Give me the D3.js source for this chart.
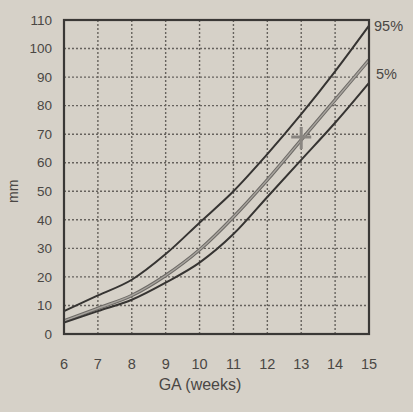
<!DOCTYPE html>
<meta charset="utf-8">
<style>
body { margin: 0; background: #d6d1c8; }
svg { display: block; font-family: "Liberation Sans", Arial, sans-serif; }
.grid line { stroke: #66625d; stroke-width: 1.4; stroke-dasharray: 2,2; }
.tick-label { fill: #4a4744; font-size: 13.5px; }
</style>
<body>
<script src="https://d3js.org/d3.v7.min.js"></script>
<script>

var width = 413,
    height = 412,
    margin = {top: 20, right: 44, bottom: 78, left: 64};

// gestational age (weeks)
var weeks = [6, 7, 8, 9, 10, 11, 12, 13, 14, 15];
// mm
var p95 = [8, 13.5, 19, 28, 39, 50, 63, 77, 92, 108];
var p50 = [4.6, 9, 13.5, 20.5, 29.5, 41, 54, 68, 82, 96];
var p5  = [4, 8, 12, 18, 25, 35, 48, 61, 74, 88];
var yTicks = [0, 10, 20, 30, 40, 50, 60, 70, 80, 90, 100, 110];
var marker = {week: 13, mm: 69};

var svg = d3.select("body").append("svg")
    .attr("width", width)
    .attr("height", height);

var x = d3.scaleLinear().domain([6, 15]).range([margin.left, width - margin.right]);
var y = d3.scaleLinear().domain([0, 110]).range([height - margin.bottom, margin.top]);

// dotted grid
var grid = svg.append("g").attr("class", "grid");
grid.selectAll(".h")
    .data(yTicks.filter(function(d) { return d > 0 && d < 110; }))
  .enter().append("line")
    .attr("x1", x(6)).attr("x2", x(15))
    .attr("y1", function(d) { return y(d); })
    .attr("y2", function(d) { return y(d); });
grid.selectAll(".v")
    .data(weeks.filter(function(d) { return d > 6 && d < 15; }))
  .enter().append("line")
    .attr("x1", function(d) { return x(d); })
    .attr("x2", function(d) { return x(d); })
    .attr("y1", y(110)).attr("y2", y(0));

var line = d3.line()
    .x(function(d, i) { return x(weeks[i]); })
    .y(function(d) { return y(d); })
    .curve(d3.curveMonotoneX);

// middle (grey, double-stroked look)
svg.append("path").datum(p50)
    .attr("d", line).attr("fill", "none")
    .attr("stroke", "#6d6a66").attr("stroke-width", 3.4);
svg.append("path").datum(p50)
    .attr("d", line).attr("fill", "none")
    .attr("stroke", "#a8a49e").attr("stroke-width", 1.4);

[p95, p5].forEach(function(s) {
  svg.append("path").datum(s)
      .attr("d", line).attr("fill", "none")
      .attr("stroke", "#363432").attr("stroke-width", 2);
});

// cross marker on the middle curve
var mx = x(marker.week), my = y(marker.mm);
svg.append("path")
    .attr("d", "M" + (mx - 10) + "," + my + "H" + (mx + 10) + "M" + mx + "," + (my - 10) + "V" + (my + 12))
    .attr("stroke", "#8a8681").attr("stroke-width", 3);

// frame
svg.append("rect")
    .attr("x", x(6)).attr("y", y(110))
    .attr("width", x(15) - x(6)).attr("height", y(0) - y(110))
    .attr("fill", "none").attr("stroke", "#3a3836").attr("stroke-width", 2.2);

// y tick labels
svg.selectAll(".ylab")
    .data(yTicks)
  .enter().append("text")
    .attr("class", "tick-label")
    .attr("x", margin.left - 12)
    .attr("y", function(d) { return y(d); })
    .attr("dy", "0.35em")
    .attr("text-anchor", "end")
    .text(function(d) { return d; });

// x tick labels
svg.selectAll(".xlab")
    .data(weeks)
  .enter().append("text")
    .attr("class", "tick-label")
    .attr("x", function(d) { return x(d); })
    .attr("y", height - margin.bottom + 35)
    .attr("text-anchor", "middle")
    .style("font-size", "14.5px")
    .text(function(d) { return d; });

svg.append("text")
    .attr("x", 200).attr("y", 390)
    .attr("text-anchor", "middle")
    .attr("fill", "#4a4744")
    .style("font-size", "16px")
    .text("GA (weeks)");

svg.append("text")
    .attr("transform", "translate(18," + y(50) + ") rotate(-90)")
    .attr("text-anchor", "middle")
    .attr("fill", "#4a4744")
    .style("font-size", "14px")
    .text("mm");

// percentile labels
svg.append("text")
    .attr("x", x(15) + 5).attr("y", y(p95[9]) + 5)
    .attr("fill", "#4a4744").style("font-size", "14.5px")
    .text("95%");
svg.append("text")
    .attr("x", x(15) + 7).attr("y", y(p5[9] + 3) + 5)
    .attr("fill", "#4a4744").style("font-size", "14.5px")
    .text("5%");

</script>
</body>
